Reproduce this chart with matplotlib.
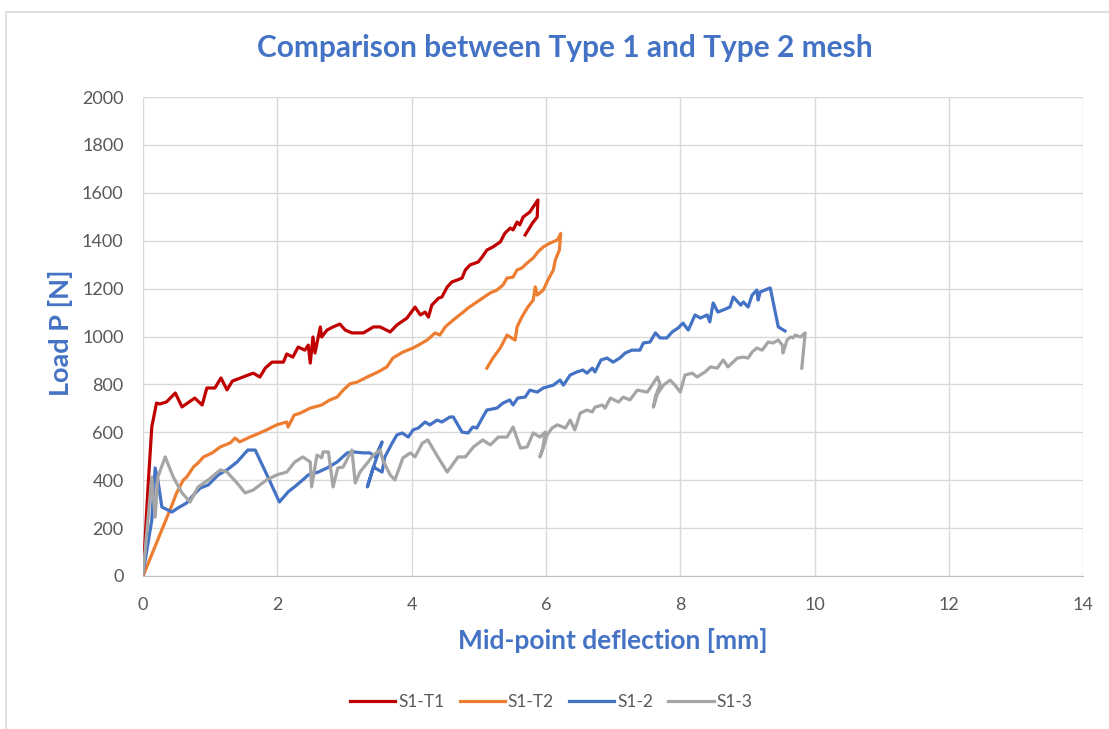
import matplotlib.pyplot as plt
from matplotlib.patches import Rectangle

t1_x = [0.0, 0.08, 0.13, 0.2, 0.25, 0.35, 0.48, 0.58, 0.77, 0.88, 0.95, 1.07, 1.16, 1.25, 1.33,
        1.49, 1.64, 1.74, 1.82, 1.92, 2.09, 2.14, 2.23, 2.31, 2.41, 2.46, 2.49, 2.53, 2.56, 2.64,
        2.66, 2.74, 2.83, 2.93, 3.01, 3.11, 3.28, 3.43, 3.53, 3.68, 3.78, 3.93, 4.05, 4.13, 4.2,
        4.25, 4.3, 4.4, 4.45, 4.53, 4.6, 4.68, 4.75, 4.8, 4.87, 4.99, 5.05, 5.12, 5.21, 5.32,
        5.39, 5.47, 5.51, 5.57, 5.61, 5.66, 5.76, 5.81, 5.88, 5.87, 5.8, 5.69]
t1_p = [0, 400, 622, 722, 718, 727, 764, 706, 743, 714, 785, 785, 827, 777, 814,
        831, 847, 831, 868, 893, 893, 927, 914, 956, 943, 964, 889, 998, 931, 1040,
        998, 1027, 1040, 1052, 1027, 1015, 1015, 1040, 1040, 1019, 1048, 1077, 1123, 1090, 1102,
        1081, 1131, 1160, 1165, 1207, 1228, 1236, 1244, 1278, 1299, 1311, 1332, 1361, 1374, 1395,
        1432, 1453, 1445, 1478, 1466, 1499, 1520, 1541, 1570, 1499, 1474, 1424]

t2_x = [0.0, 0.43, 0.5, 0.6, 0.65, 0.75, 0.82, 0.9, 1.03, 1.15, 1.3, 1.37, 1.44, 1.59, 1.67,
        1.84, 1.99, 2.14, 2.16, 2.25, 2.34, 2.49, 2.66, 2.78, 2.89, 2.98, 3.08, 3.19, 3.34, 3.5,
        3.63, 3.72, 3.87, 4.02, 4.1, 4.23, 4.35, 4.42, 4.5, 4.62, 4.75, 4.84, 4.97, 5.06, 5.17,
        5.27, 5.36, 5.42, 5.51, 5.57, 5.64, 5.72, 5.81, 5.88, 5.96, 6.06, 6.17, 6.22, 6.2, 6.14,
        6.11, 6.03, 5.96, 5.87, 5.84, 5.81, 5.73, 5.64, 5.57, 5.54, 5.42, 5.32, 5.21, 5.12]
t2_p = [0, 296, 347, 401, 413, 455, 472, 497, 514, 539, 556, 576, 560, 580, 589,
        610, 631, 643, 622, 672, 680, 701, 714, 735, 747, 776, 802, 810, 831, 852,
        873, 910, 935, 952, 964, 985, 1015, 1006, 1040, 1069, 1098, 1119, 1144, 1161, 1182,
        1194, 1215, 1244, 1248, 1278, 1286, 1307, 1328, 1353, 1374, 1390, 1403, 1430, 1361, 1320,
        1278, 1236, 1194, 1173, 1207, 1152, 1123, 1081, 1040, 985, 1006, 952, 910, 868]

s2_x = [0.0, 0.13, 0.18, 0.22, 0.28, 0.43, 0.52, 0.65, 0.75, 0.85, 0.97, 1.12, 1.25, 1.4, 1.56,
        1.67, 1.86, 2.03, 2.16, 2.29, 2.41, 2.46, 2.61, 2.74, 2.89, 3.04, 3.13, 3.28, 3.38, 3.46,
        3.56, 3.45, 3.34, 3.43, 3.56, 3.6, 3.71, 3.78, 3.86, 3.95, 4.02, 4.1, 4.2, 4.27, 4.38,
        4.45, 4.57, 4.62, 4.75, 4.84, 4.91, 4.97, 5.06, 5.12, 5.27, 5.36, 5.46, 5.51, 5.58, 5.69,
        5.76, 5.87, 5.96, 6.11, 6.21, 6.26, 6.36, 6.46, 6.55, 6.61, 6.69, 6.73, 6.82, 6.91, 7.0,
        7.1, 7.18, 7.28, 7.4, 7.45, 7.55, 7.63, 7.7, 7.8, 7.88, 7.97, 8.04, 8.12, 8.22, 8.3,
        8.4, 8.44, 8.49, 8.56, 8.64, 8.74, 8.79, 8.9, 8.94, 9.01, 9.07, 9.14, 9.16, 9.19, 9.34,
        9.46, 9.56]
s2_p = [12, 234, 451, 401, 288, 267, 284, 305, 338, 367, 380, 422, 443, 476, 526,
        526, 413, 309, 351, 380, 409, 422, 434, 451, 476, 514, 518, 514, 514, 497,
        560, 470, 372, 455, 434, 497, 555, 589, 597, 580, 610, 618, 643, 631, 651,
        643, 664, 664, 601, 597, 622, 618, 664, 693, 701, 722, 735, 714, 743, 747,
        776, 768, 785, 797, 818, 797, 839, 852, 860, 847, 868, 852, 902, 910, 893,
        910, 931, 943, 943, 973, 977, 1015, 994, 994, 1019, 1036, 1056, 1027, 1090, 1077,
        1090, 1061, 1140, 1102, 1111, 1123, 1165, 1131, 1144, 1123, 1173, 1194, 1152, 1186, 1203,
        1040, 1023]

s3_x = [0.0, 0.13, 0.18, 0.22, 0.33, 0.45, 0.58, 0.7, 0.82, 0.97, 1.15, 1.25, 1.4, 1.52, 1.64,
        1.84, 1.99, 2.14, 2.26, 2.38, 2.49, 2.51, 2.59, 2.66, 2.68, 2.76, 2.83, 2.9, 2.98, 3.11,
        3.16, 3.23, 3.34, 3.43, 3.53, 3.57, 3.68, 3.75, 3.87, 3.98, 4.05, 4.16, 4.24, 4.39, 4.53,
        4.69, 4.8, 4.92, 5.06, 5.17, 5.29, 5.42, 5.51, 5.62, 5.72, 5.81, 5.91, 5.99, 5.95, 5.91,
        5.97, 6.02, 6.09, 6.17, 6.29, 6.36, 6.43, 6.51, 6.61, 6.69, 6.73, 6.84, 6.88, 6.96, 7.08,
        7.15, 7.25, 7.36, 7.51, 7.58, 7.66, 7.7, 7.63, 7.6, 7.66, 7.75, 7.85, 7.92, 8.0, 8.07,
        8.18, 8.25, 8.37, 8.45, 8.55, 8.64, 8.71, 8.85, 8.94, 9.01, 9.07, 9.14, 9.22, 9.31, 9.38,
        9.46, 9.52, 9.53, 9.59, 9.64, 9.68, 9.71, 9.79, 9.86, 9.81]
s3_p = [12, 413, 246, 413, 497, 413, 347, 309, 372, 401, 443, 434, 388, 347, 359,
        401, 422, 434, 476, 497, 476, 372, 505, 493, 518, 518, 372, 451, 455, 526,
        388, 434, 472, 505, 526, 484, 422, 401, 493, 514, 497, 555, 568, 497, 434,
        497, 497, 539, 568, 547, 580, 580, 622, 534, 539, 597, 580, 601, 530, 497,
        545, 590, 618, 631, 618, 651, 610, 680, 693, 685, 705, 714, 701, 743, 726,
        747, 735, 776, 768, 797, 831, 800, 750, 705, 760, 797, 818, 797, 768, 839,
        847, 831, 852, 873, 868, 902, 873, 910, 914, 910, 935, 952, 943, 977, 973,
        985, 964, 931, 985, 998, 994, 1006, 998, 1015, 868]

namen = ["S1-T1", "S1-T2", "S1-2", "S1-3"]
farben = ["#C00000", "#ED7D31", "#4472C4", "#A5A5A5"]

plt.rcParams['font.family'] = ['Lato', 'DejaVu Sans']

fig = plt.figure(figsize=(11.09, 7.29), dpi=100)
fig.patches.append(Rectangle((6 / 1109, -0.1), 1.2, 1.1 - 12 / 729, transform=fig.transFigure,
                             fill=False, edgecolor="#D9D9D9", linewidth=1.2))
ax = fig.add_axes([0.129, 0.2099, 0.8477, 0.657])

daten = [(t1_x, t1_p), (t2_x, t2_p), (s2_x, s2_p), (s3_x, s3_p)]
for (xs, ps), name, farbe in zip(daten, namen, farben):
    ax.plot(xs, ps, color=farbe, linewidth=2.3, label=name, solid_joinstyle='round')

ax.set_xlim(0, 14)
ax.set_ylim(0, 2000)
ax.set_xticks(range(0, 15, 2))
ax.set_yticks(range(0, 2001, 200))
ax.grid(True, color="#D9D9D9", linewidth=1)
ax.set_axisbelow(True)
for s in ["top", "right", "left"]:
    ax.spines[s].set_visible(False)
ax.spines["bottom"].set_color("#BFBFBF")
ax.tick_params(length=0, labelsize=13, labelcolor="#595959")
ax.tick_params(axis="x", pad=15)
ax.tick_params(axis="y", pad=14)

fig.text(0.509, 0.934, "Comparison between Type 1 and Type 2 mesh", color="#4472C4",
         fontsize=21.5, fontweight="bold", ha="center", va="center")

ax.set_xlabel("Mid-point deflection [mm]", color="#4472C4", fontsize=19, fontweight="bold")
ax.xaxis.set_label_coords(0.5, -0.134)
ax.xaxis.label.set_va("center")
ax.set_ylabel("Load P [N]", color="#4472C4", fontsize=19.5, fontweight="bold")
ax.yaxis.set_label_coords(-0.0883, 0.507)
ax.yaxis.label.set_va("center")

fig.legend(loc="center", bbox_to_anchor=(0.497, 0.037), ncol=4, frameon=False,
           fontsize=12.5, labelcolor="#595959", handlelength=2.6, handletextpad=0.15,
           columnspacing=0.9)

plt.savefig("out.png", dpi=100)
